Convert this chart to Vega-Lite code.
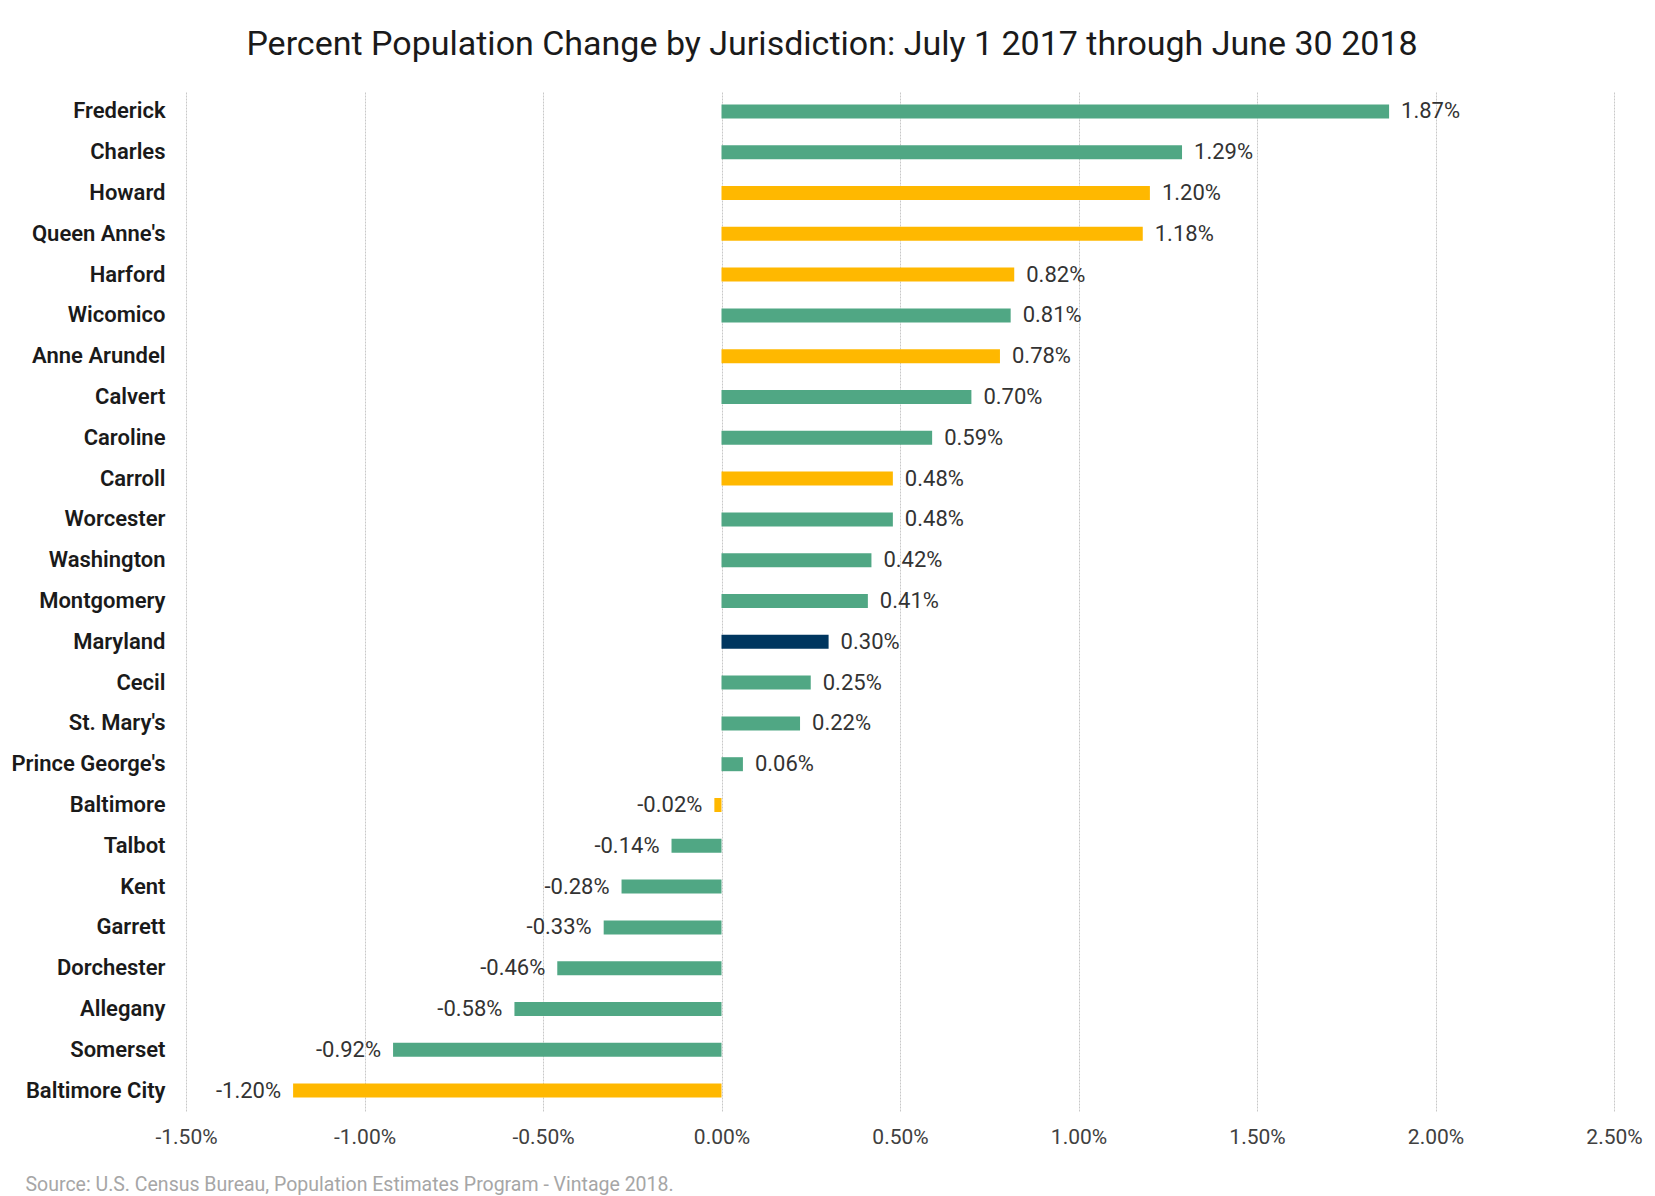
{
  "$schema": "https://vega.github.io/schema/vega-lite/v6.json",
  "autosize": "none",
  "width": 1428,
  "height": 1020,
  "padding": {"left": 186, "top": 91, "right": 41, "bottom": 85},
  "background": "white",
  "config": {
    "font": "Roboto",
    "view": {"stroke": null}
  },
  "title": {
    "text": "Percent Population Change by Jurisdiction: July 1 2017 through June 30 2018",
    "font": "Roboto",
    "fontSize": 34,
    "fontWeight": "normal",
    "color": "#1a1a1a",
    "anchor": "middle",
    "dx": -68,
    "offset": 29
  },
  "data": {
    "values": [
      {"jurisdiction": "Frederick", "change": 1.87, "group": "Other"},
      {"jurisdiction": "Charles", "change": 1.29, "group": "Other"},
      {"jurisdiction": "Howard", "change": 1.20, "group": "Baltimore Region"},
      {"jurisdiction": "Queen Anne's", "change": 1.18, "group": "Baltimore Region"},
      {"jurisdiction": "Harford", "change": 0.82, "group": "Baltimore Region"},
      {"jurisdiction": "Wicomico", "change": 0.81, "group": "Other"},
      {"jurisdiction": "Anne Arundel", "change": 0.78, "group": "Baltimore Region"},
      {"jurisdiction": "Calvert", "change": 0.70, "group": "Other"},
      {"jurisdiction": "Caroline", "change": 0.59, "group": "Other"},
      {"jurisdiction": "Carroll", "change": 0.48, "group": "Baltimore Region"},
      {"jurisdiction": "Worcester", "change": 0.48, "group": "Other"},
      {"jurisdiction": "Washington", "change": 0.42, "group": "Other"},
      {"jurisdiction": "Montgomery", "change": 0.41, "group": "Other"},
      {"jurisdiction": "Maryland", "change": 0.30, "group": "State"},
      {"jurisdiction": "Cecil", "change": 0.25, "group": "Other"},
      {"jurisdiction": "St. Mary's", "change": 0.22, "group": "Other"},
      {"jurisdiction": "Prince George's", "change": 0.06, "group": "Other"},
      {"jurisdiction": "Baltimore", "change": -0.02, "group": "Baltimore Region"},
      {"jurisdiction": "Talbot", "change": -0.14, "group": "Other"},
      {"jurisdiction": "Kent", "change": -0.28, "group": "Other"},
      {"jurisdiction": "Garrett", "change": -0.33, "group": "Other"},
      {"jurisdiction": "Dorchester", "change": -0.46, "group": "Other"},
      {"jurisdiction": "Allegany", "change": -0.58, "group": "Other"},
      {"jurisdiction": "Somerset", "change": -0.92, "group": "Other"},
      {"jurisdiction": "Baltimore City", "change": -1.20, "group": "Baltimore Region"}
    ]
  },
  "encoding": {
    "y": {
      "field": "jurisdiction",
      "type": "nominal",
      "sort": null,
      "scale": {"paddingInner": 0.66, "paddingOuter": 0.33},
      "axis": {
        "title": null,
        "domain": false,
        "ticks": false,
        "tickSize": 0,
        "grid": false,
        "labelPadding": 21,
        "labelFont": "Roboto",
        "labelFontSize": 22,
        "labelFontWeight": 600,
        "labelColor": "#1a1a1a"
      }
    },
    "x": {
      "field": "change",
      "type": "quantitative",
      "scale": {"domain": [-1.5, 2.5], "nice": false, "zero": false},
      "axis": {
        "values": [-1.5, -1.0, -0.5, 0, 0.5, 1.0, 1.5, 2.0, 2.5],
        "labelExpr": "replace(format(datum.value, '.2f'), '−', '-') + '%'",
        "labelFlush": false,
        "labelOverlap": false,
        "domain": false,
        "ticks": false,
        "tickSize": 0,
        "grid": true,
        "gridColor": "#c8c8c8",
        "gridDash": [2, 1],
        "gridWidth": 1,
        "labelPadding": 15,
        "labelFont": "Roboto",
        "labelFontSize": 21,
        "labelColor": "#404040",
        "title": "Source: U.S. Census Bureau, Population Estimates Program - Vintage 2018.",
        "titleFont": "Roboto",
        "titleFontSize": 19.5,
        "titleFontWeight": "normal",
        "titleColor": "#a6a6a6",
        "titleAlign": "left",
        "titleBaseline": "middle",
        "titleX": -161,
        "titleY": 73
      }
    }
  },
  "layer": [
    {
      "mark": {"type": "bar", "size": 14},
      "encoding": {
        "x2": {"datum": 0},
        "color": {
          "field": "group",
          "type": "nominal",
          "scale": {
            "domain": ["Other", "Baltimore Region", "State"],
            "range": ["#50a784", "#ffb800", "#00365f"]
          },
          "legend": null
        }
      }
    },
    {
      "transform": [{"filter": "datum.change >= 0"}],
      "mark": {"type": "text", "align": "left", "baseline": "middle", "dx": 12, "font": "Roboto", "fontSize": 22, "color": "#333333"},
      "encoding": {
        "text": {"field": "label", "type": "nominal"}
      }
    },
    {
      "transform": [{"filter": "datum.change < 0"}],
      "mark": {"type": "text", "align": "right", "baseline": "middle", "dx": -12, "font": "Roboto", "fontSize": 22, "color": "#333333"},
      "encoding": {
        "text": {"field": "label", "type": "nominal"}
      }
    }
  ],
  "transform": [
    {"calculate": "replace(format(datum.change, '.2f'), '−', '-') + '%'", "as": "label"}
  ]
}
